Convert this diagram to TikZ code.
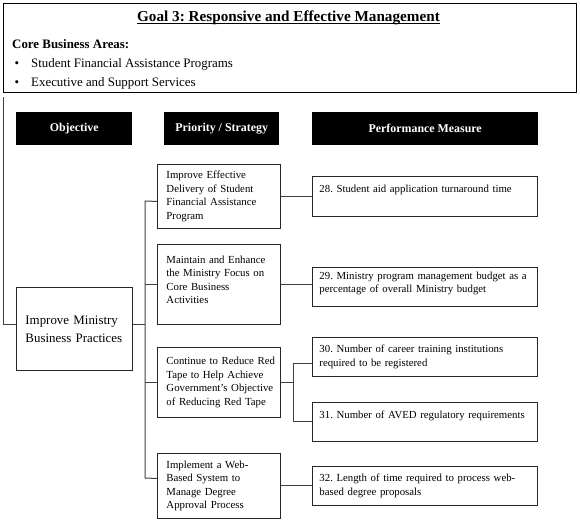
\documentclass[tikz,border=0pt]{standalone}
\usepackage{fontspec}
\setmainfont{Liberation Serif}
\frenchspacing
\begin{document}
\begin{tikzpicture}[x=1pt,y=-1pt,
  frame/.style={draw=black, line width=0.9pt},
  conn/.style={draw=black!75, line width=1pt},
  hdr/.style={fill=black, text=white, anchor=north west, inner sep=0pt,
    minimum height=33pt, font=\fontsize{11.9}{14}\selectfont\bfseries},
  sbox/.style={draw=black!85, line width=0.9pt, anchor=north west, inner xsep=5pt,
    inner ysep=0pt, text width=113pt, minimum width=123pt, align=left,
    execute at begin node={\leftskip=4pt\relax},
    font=\fontsize{10.8}{13.4}\selectfont},
  mbox/.style={draw=black!85, line width=0.9pt, anchor=north west, inner xsep=5pt,
    inner ysep=0pt, text width=215pt, minimum width=225pt, minimum height=39pt, align=left,
    execute at begin node={\leftskip=2pt\relax},
    font=\fontsize{10.8}{13.4}\selectfont},
  obox/.style={draw=black!85, line width=0.9pt, anchor=north west, inner xsep=9pt,
    inner ysep=0pt, text width=98pt, minimum width=116pt, minimum height=83pt, align=left,
    font=\fontsize{12.9}{18}\selectfont},
  plain/.style={anchor=base west, inner sep=0pt, font=\fontsize{12.9}{15}\selectfont}
]
\useasboundingbox (0,0) rectangle (580,525);
% top box
\node[frame, anchor=north west, minimum width=573pt, minimum height=89pt, inner sep=0pt] (top) at (3,3) {};
\node[anchor=base, inner sep=0pt, font=\fontsize{15.2}{18}\selectfont\bfseries] (title) at (288.5,21.5) {Goal 3: Responsive and Effective Management};
\draw[line width=0.9pt] ([yshift=-2pt]title.base west) -- ([yshift=-2pt]title.base east);
\node[plain, font=\fontsize{12.9}{15}\selectfont\bfseries] (core) at (12,48) {Core Business Areas:};
\node[anchor=base, inner sep=0pt, font=\fontsize{12.9}{15}\selectfont] (b1) at (17,67) {\textbullet};
\node[plain] (a1) at (31,67) {Student Financial Assistance Programs};
\node[anchor=base, inner sep=0pt, font=\fontsize{12.9}{15}\selectfont] (b2) at (17,86) {\textbullet};
\node[plain] (a2) at (31,86) {Executive and Support Services};
% headers
\node[hdr, minimum width=116pt] (h1) at (16,112) {Objective};
\node[hdr, minimum width=115pt] (h2) at (164,112) {Priority / Strategy};
\node[hdr, minimum width=226pt] (h3) at (312,112) {Performance Measure};
% objective
\node[obox] (obj) at (16,287) {Improve Ministry\\Business Practices};
% strategies
\node[sbox, minimum height=64pt] (s1) at (157,164) {Improve Effective\\Delivery of Student\\Financial Assistance\\Program};
\node[sbox, minimum height=80pt, text depth=49.4pt] (s2) at (157,244) {Maintain and Enhance\\the Ministry Focus on\\Core Business\\Activities};
\node[sbox, minimum height=70pt] (s3) at (157,347) {Continue to Reduce Red\\Tape to Help Achieve\\Government's Objective\\of Reducing Red Tape};
\node[sbox, minimum height=65pt] (s4) at (157,453) {Implement a Web-\\Based System to\\Manage Degree\\Approval Process};
% measures
\node[mbox, minimum height=40pt, text depth=16.4pt] (m28) at (312,176) {28. Student aid application turnaround time};
\node[mbox, text depth=22.4pt] (m29) at (312,267) {29. Ministry program management budget as a\\percentage of overall Ministry budget};
\node[mbox] (m30) at (312,337) {30. Number of career training institutions\\required to be registered};
\node[mbox, text depth=15.4pt] (m31) at (312,402) {31. Number of AVED regulatory requirements};
\node[mbox] (m32) at (312,466) {32. Length of time required to process web-\\based degree proposals};
% connectors
\coordinate (tl) at (3,97);
\draw[conn] (tl) |- ([yshift=4.5pt]obj.west);
\coordinate (busTop) at (145,201);
\coordinate (busBot) at (145,478);
\draw[conn] ([yshift=-5pt]s1.west) -- (busTop) -- (busBot) -- ([yshift=7.5pt]s4.west);
\draw[conn] (s2.west) -- (s2.west -| busTop);
\draw[conn] (s3.west) -- (s3.west -| busTop);
\draw[conn] ([yshift=4.5pt]obj.east) -- ([yshift=4.5pt]obj.east -| busTop);
\draw[conn] (s1.east) -- (s1.east -| m28.west);
\draw[conn] (s2.east) -- (s2.east -| m29.west);
\coordinate (br) at (293,384);
\draw[conn] (s3.east) -- (s3.east -| br);
\draw[conn] ([yshift=-6.5pt]m30.west) -| (br |- m31.west) -- (m31.west);
\draw[conn] (s4.east) -- (s4.east -| m32.west);
\end{tikzpicture}
\end{document}
